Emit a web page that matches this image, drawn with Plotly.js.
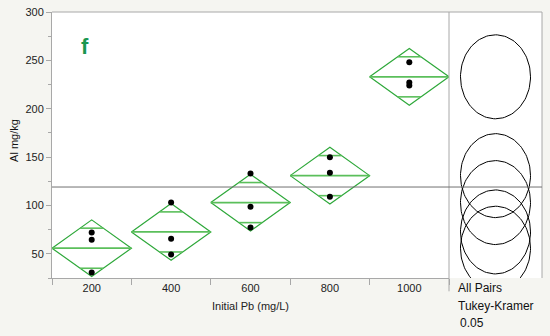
<!DOCTYPE html>
<html>
<head>
<meta charset="utf-8">
<script src="https://cdn.plot.ly/plotly-3.0.1.min.js"></script>
<style>html,body{margin:0;padding:0;background:#f5f5f1;}#chart{width:550px;height:336px;}</style>
</head>
<body>
<div id="chart"></div>
<script>
// ---- data ----
const categories = ['200', '400', '600', '800', '1000'];
const values200  = [72.1, 64.5, 30.8];
const values400  = [103.0, 65.5, 49.4];
const values600  = [133.0, 98.6, 77.3];
const values800  = [149.9, 133.7, 108.9];
const values1000 = [248.0, 227.0, 224.0];
const ciHalfWidth = 29.3;      // 95% CI half-width (pooled)
const circleRadius = 43.4;     // Tukey-Kramer comparison circle radius
const yTickVals = [50, 100, 150, 200, 250, 300];

const groups = [values200, values400, values600, values800, values1000];
const mean = a => a.reduce((s, v) => s + v, 0) / a.length;
const means = groups.map(mean);
const grandMean = mean([].concat(...groups));

const green = '#2ea83a';
const lightGreen = '#5bbf5b';
const traces = [];

groups.forEach((g, i) => {
  const m = means[i], c = ciHalfWidth;
  // diamond
  traces.push({
    x: [i - 0.5, i, i + 0.5, i, i - 0.5],
    y: [m, m + c, m, m - c, m],
    mode: 'lines', line: {color: green, width: 1.2},
    hoverinfo: 'skip', showlegend: false
  });
  // mean line
  traces.push({
    x: [i - 0.5, i + 0.5], y: [m, m],
    mode: 'lines', line: {color: lightGreen, width: 1.8},
    hoverinfo: 'skip', showlegend: false
  });
  // overlap marks
  const h = c / Math.SQRT2;
  const hw = 0.5 * (1 - h / c);
  [m + h, m - h].forEach(yv => {
    traces.push({
      x: [i - hw, i + hw], y: [yv, yv],
      mode: 'lines', line: {color: lightGreen, width: 1.6},
      hoverinfo: 'skip', showlegend: false
    });
  });
  // points
  traces.push({
    x: g.map(() => i), y: g,
    mode: 'markers', marker: {color: '#000', size: 6},
    showlegend: false
  });
});

// comparison circles (drawn as traces so they clip to the panel)
const circleXRadius = 0.753;
means.forEach(m => {
  const cx = [], cy = [];
  for (let k = 0; k <= 120; k++) {
    const t = 2 * Math.PI * k / 120;
    cx.push(circleXRadius * Math.cos(t));
    cy.push(m + circleRadius * Math.sin(t));
  }
  traces.push({x: cx, y: cy, xaxis: 'x2', yaxis: 'y', mode: 'lines',
    line: {color: '#000', width: 1}, hoverinfo: 'skip', showlegend: false});
});

const split = (449 - 52) / 490;
const frameColor = '#a8a8a8';

const shapes = [
  {type: 'line', xref: 'paper', yref: 'paper', x0: 0, x1: 1, y0: 1, y1: 1, line: {color: frameColor, width: 1}},
  {type: 'line', xref: 'paper', yref: 'paper', x0: 1, x1: 1, y0: 0, y1: 1, line: {color: frameColor, width: 1}},
  {type: 'line', xref: 'paper', yref: 'paper', x0: split, x1: split, y0: -0.05, y1: 1, line: {color: frameColor, width: 1}},
  {type: 'line', xref: 'paper', yref: 'y', x0: 0, x1: 1, y0: grandMean, y1: grandMean, line: {color: '#707070', width: 1}}
];

const font = {family: 'Liberation Sans, Arial, sans-serif', size: 11, color: '#222'};

const layout = {
  width: 550, height: 336,
  paper_bgcolor: '#f5f5f1', plot_bgcolor: '#ffffff',
  margin: {l: 52, r: 8, t: 12, b: 58},
  font: font,
  showlegend: false,
  xaxis: {
    domain: [0, split], range: [-0.5, 4.5],
    tickmode: 'array', tickvals: [0, 1, 2, 3, 4], ticktext: categories,
    ticks: '', showline: true, linecolor: frameColor, linewidth: 1,
    showgrid: false, zeroline: false, fixedrange: true,
    minor: {tickmode: 'array', tickvals: [-0.5, 0.5, 1.5, 2.5, 3.5, 4.5], ticks: 'outside', ticklen: 6, tickcolor: frameColor, showgrid: false},
    tickfont: {size: 11},
    title: {text: 'Initial Pb (mg/L)', font: {size: 11}, standoff: 9}
  },
  xaxis2: {domain: [split, 1], range: [-1, 1], anchor: 'y', visible: false, fixedrange: true},
  yaxis: {
    range: [25, 300], tickmode: 'array', tickvals: yTickVals,
    ticks: 'outside', ticklen: 5, tickcolor: frameColor,
    showline: true, linecolor: frameColor, linewidth: 1,
    showgrid: false, zeroline: false, fixedrange: true,
    minor: {dtick: 25, tick0: 0, ticks: 'outside', ticklen: 3, tickcolor: frameColor, showgrid: false},
    tickfont: {size: 11}
  },
  shapes: shapes,
  annotations: [
    {xref: 'paper', yref: 'paper', x: -0.0776, y: 0.519, xanchor: 'center', yanchor: 'middle', textangle: -90,
     text: 'Al mg/kg', showarrow: false, font: {size: 11, color: '#111'}},
    {xref: 'paper', yref: 'paper', x: 0.0673, y: 0.872, xanchor: 'center', yanchor: 'middle', text: '<b>f</b>', showarrow: false,
     font: {family: 'Liberation Sans, Arial, sans-serif', size: 22, color: '#1a9650'}},
    {xref: 'paper', yref: 'paper', x: 0.824, y: -0.0376, xanchor: 'left', yanchor: 'middle', text: 'All Pairs', showarrow: false, font: {size: 12, color: '#111'}},
    {xref: 'paper', yref: 'paper', x: 0.824, y: -0.105, xanchor: 'left', yanchor: 'middle', text: 'Tukey-Kramer', showarrow: false, font: {size: 12, color: '#111'}},
    {xref: 'paper', yref: 'paper', x: 0.829, y: -0.168, xanchor: 'left', yanchor: 'middle', text: '0.05', showarrow: false, font: {size: 12, color: '#111'}}
  ]
};

Plotly.newPlot('chart', traces, layout, {displayModeBar: false, staticPlot: true});
</script>
</body>
</html>
